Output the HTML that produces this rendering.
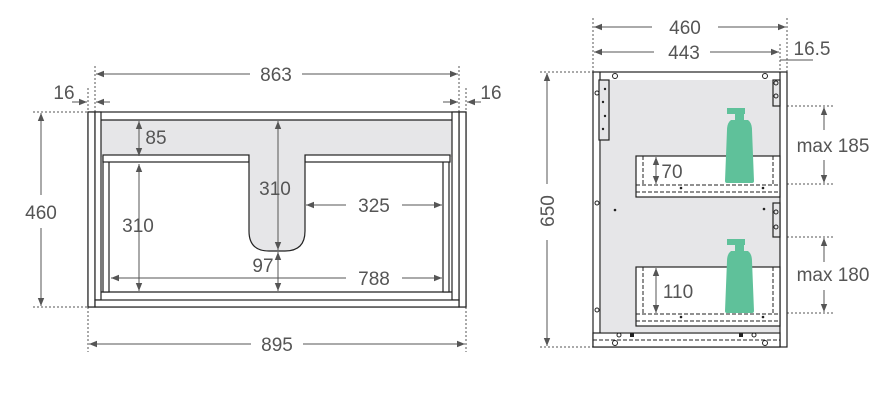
<!DOCTYPE html>
<html><head><meta charset="utf-8"><style>
html,body{margin:0;padding:0;background:#fff;}
svg{display:block;}
text{font-family:"Liberation Sans",sans-serif;font-size:19px;fill:#555;text-anchor:middle;}
</style></head><body>
<svg width="891" height="403" viewBox="0 0 891 403" xmlns="http://www.w3.org/2000/svg">
<defs>
<marker id="a" viewBox="0 0 10 10" refX="10" refY="5" markerWidth="8" markerHeight="8" orient="auto-start-reverse" markerUnits="userSpaceOnUse"><path d="M0,1 L10,5 L0,9 z" fill="#555"/></marker>
</defs>
<g stroke="#555" stroke-width="1" stroke-dasharray="2,2" fill="none">
<line x1="95" y1="66" x2="95" y2="112"/><line x1="459" y1="66" x2="459" y2="112"/>
<line x1="88" y1="88" x2="88" y2="112"/><line x1="466" y1="88" x2="466" y2="112"/>
<line x1="88" y1="307" x2="88" y2="352"/><line x1="466" y1="307" x2="466" y2="352"/>
<line x1="33" y1="112" x2="88" y2="112"/><line x1="33" y1="307" x2="88" y2="307"/>
<line x1="593" y1="18" x2="593" y2="72"/><line x1="787" y1="18" x2="787" y2="72"/>
<line x1="780" y1="44" x2="780" y2="72"/>
<line x1="540" y1="72" x2="593" y2="72"/><line x1="540" y1="347" x2="593" y2="347"/>
<line x1="719" y1="106" x2="833" y2="106"/><line x1="719" y1="184" x2="833" y2="184"/>
<line x1="719" y1="237" x2="833" y2="237"/><line x1="719" y1="313" x2="833" y2="313"/>
</g>
<g stroke="#222" stroke-width="1.2" fill="#fff">
<rect x="88" y="112" width="378" height="195"/>
<rect x="101" y="120" width="351" height="37" fill="#e6e6e8" stroke="none"/>
<line x1="101" y1="120" x2="452" y2="120"/>
<rect x="88" y="112" width="7" height="195"/>
<rect x="95" y="112" width="6" height="188"/>
<rect x="459" y="112" width="7" height="195"/>
<rect x="452" y="112" width="7" height="188"/>
<rect x="95" y="300" width="364" height="7"/>
<line x1="101" y1="292" x2="452" y2="292"/>
<rect x="103" y="157" width="6" height="135"/><rect x="443" y="157" width="6" height="135"/>
<rect x="103" y="155" width="146" height="7"/><rect x="305" y="155" width="145" height="7"/>
<path d="M249,155 L249,231 Q249,251 269,251 L285,251 Q305,251 305,231 L305,155" fill="#e6e6e8"/>
<rect x="250" y="154" width="54" height="4" fill="#e6e6e8" stroke="none"/>
</g>
<g stroke="#555" stroke-width="1" fill="none" marker-start="url(#a)" marker-end="url(#a)">
<line x1="96" y1="74" x2="250" y2="74" marker-end="none"/><line x1="302" y1="74" x2="458" y2="74" marker-start="none"/>
<line x1="89" y1="344" x2="251" y2="344" marker-end="none"/><line x1="303" y1="344" x2="465" y2="344" marker-start="none"/>
<line x1="41" y1="113" x2="41" y2="195" marker-end="none"/><line x1="41" y1="228" x2="41" y2="306" marker-start="none"/>
<line x1="139" y1="121" x2="139" y2="156"/>
<line x1="139" y1="164" x2="139" y2="291"/>
<line x1="278" y1="121" x2="278" y2="250"/>
<line x1="278" y1="252" x2="278" y2="291"/>
<line x1="306" y1="205" x2="346" y2="205" marker-end="none"/><line x1="402" y1="205" x2="442" y2="205" marker-start="none"/>
<line x1="111" y1="278" x2="346" y2="278" marker-end="none"/><line x1="402" y1="278" x2="442" y2="278" marker-start="none"/>
</g>
<g stroke="#555" stroke-width="1" fill="none" marker-end="url(#a)">
<line x1="72" y1="102" x2="87" y2="102"/><line x1="110" y1="102" x2="96" y2="102"/>
<line x1="443" y1="102" x2="458" y2="102"/><line x1="481" y1="102" x2="467" y2="102"/>
</g>
<text x="276" y="81">863</text><text x="277" y="351">895</text>
<text x="41" y="219">460</text>
<text x="64" y="99">16</text><text x="491" y="99">16</text>
<text x="156" y="144">85</text><text x="138" y="232">310</text>
<text x="275" y="195">310</text><text x="374" y="212">325</text>
<text x="263" y="272">97</text><text x="374" y="285">788</text>
<g stroke="#222" stroke-width="1.2" fill="#fff">
<rect x="593" y="72" width="194" height="275"/>
<rect x="601" y="80" width="179" height="252" fill="#e6e6e8" stroke="none"/>
<line x1="600" y1="72" x2="600" y2="333"/>
<line x1="780" y1="72" x2="780" y2="347"/>
<rect x="599" y="80" width="10" height="60" fill="#e6e6e8"/>
<rect x="773" y="80" width="7" height="26" fill="#e6e6e8"/>
<rect x="773" y="203" width="7" height="34" fill="#e6e6e8"/>
<rect x="636" y="156" width="144" height="41"/>
<rect x="636" y="267" width="144" height="59"/>
<rect x="593" y="333" width="187" height="14"/>
</g>
<g stroke="#222" stroke-width="1" stroke-dasharray="4,2" fill="none">
<line x1="643" y1="156" x2="643" y2="185"/><line x1="773" y1="156" x2="773" y2="185"/>
<line x1="636" y1="185" x2="780" y2="185"/><line x1="636" y1="192" x2="780" y2="192"/>
<line x1="643" y1="267" x2="643" y2="314"/><line x1="773" y1="267" x2="773" y2="314"/>
<line x1="636" y1="314" x2="780" y2="314"/><line x1="636" y1="321" x2="780" y2="321"/>
<line x1="593" y1="340" x2="780" y2="340"/>
</g>
<g fill="#222">
<circle cx="681" cy="188" r="1.3"/><circle cx="763" cy="188" r="1.3"/>
<circle cx="681" cy="317" r="1.3"/><circle cx="763" cy="317" r="1.3"/>
<circle cx="615" cy="210" r="1.3"/><circle cx="764" cy="209" r="1.3"/>
<circle cx="605" cy="89" r="1.2"/><circle cx="603" cy="102" r="1.2"/><circle cx="605" cy="116" r="1.2"/><circle cx="603" cy="129" r="1.2"/>
<rect x="630" y="333" width="4" height="4"/><rect x="739" y="333" width="4" height="4"/>
</g>
<g stroke="#222" stroke-width="1" fill="none">
<circle cx="615" cy="76" r="2.5"/><circle cx="765" cy="76" r="2.5"/>
<circle cx="615" cy="343" r="2.5"/><circle cx="765" cy="343" r="2.5"/>
<circle cx="597" cy="93" r="2"/><circle cx="597" cy="203" r="2"/><circle cx="597" cy="310" r="2"/>
<circle cx="776" cy="83" r="2"/><circle cx="776" cy="96" r="2"/><circle cx="776" cy="212" r="2"/><circle cx="776" cy="227" r="2"/>
<circle cx="619" cy="335" r="2"/><circle cx="754" cy="335" r="2"/>
</g>
<g fill="#5fc19a">
<path d="M727,108 L745,108 L745,114 L744,114 L744,120 L748,120 Q752,123 752,130 L754,181 Q754,183 752,183 L727,183 Q725,183 725,181 L727,130 Q727,123 731,120 L735,120 L735,114 L727,114 Z"/>
<path d="M727,239 L745,239 L745,245 L744,245 L744,251 L748,251 Q752,254 752,261 L754,311 Q754,313 752,313 L727,313 Q725,313 725,311 L727,261 Q727,254 731,251 L735,251 L735,245 L727,245 Z"/>
</g>
<g stroke="#555" stroke-width="1" fill="none" marker-start="url(#a)" marker-end="url(#a)">
<line x1="594" y1="27" x2="652" y2="27" marker-end="none"/><line x1="718" y1="27" x2="786" y2="27" marker-start="none"/>
<line x1="594" y1="52" x2="654" y2="52" marker-end="none"/><line x1="710" y1="52" x2="779" y2="52" marker-start="none"/>
<line x1="547" y1="73" x2="547" y2="184" marker-end="none"/><line x1="547" y1="240" x2="547" y2="346" marker-start="none"/>
<line x1="824" y1="107" x2="824" y2="130" marker-end="none"/><line x1="824" y1="160" x2="824" y2="183" marker-start="none"/>
<line x1="824" y1="238" x2="824" y2="262" marker-end="none"/><line x1="824" y1="290" x2="824" y2="312" marker-start="none"/>
<line x1="656" y1="157" x2="656" y2="184"/>
<line x1="656" y1="268" x2="656" y2="313"/>
</g>
<line x1="780" y1="60" x2="813" y2="60" stroke="#555" stroke-width="1"/>
<text x="685" y="34">460</text><text x="684" y="59">443</text>
<text x="812" y="55" fill="#333">16.5</text>
<text x="833" y="152">max 185</text><text x="833" y="281">max 180</text>
<text x="672" y="178">70</text><text x="678" y="298">110</text>
<text x="0" y="0" transform="translate(554,211) rotate(-90)">650</text>
</svg>
</body></html>
